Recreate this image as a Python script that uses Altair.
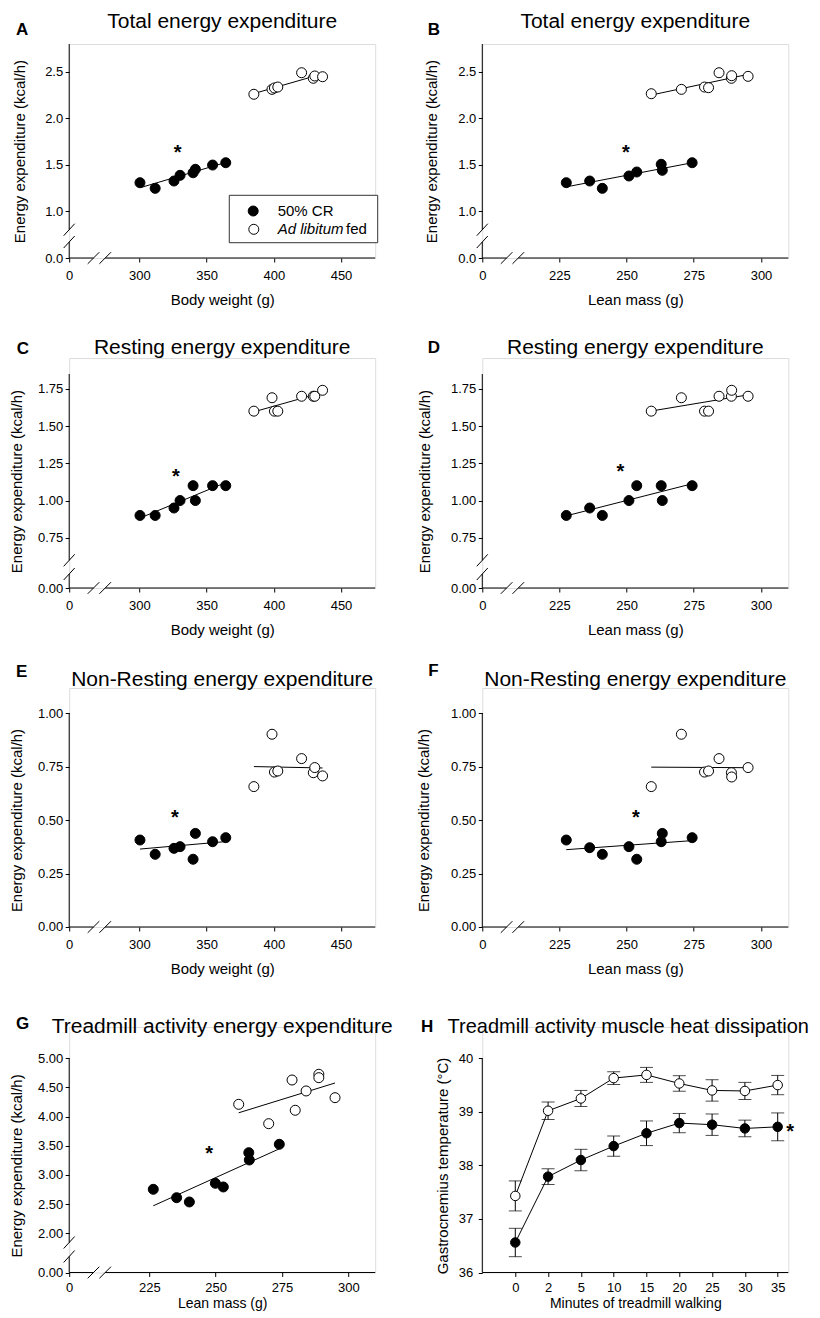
import altair as alt
import pandas as pd

# ---------------- data ----------------
cr_body_weight = [300.5, 311.8, 325.8, 330.3, 340.0, 341.7, 354.5, 364.3]
al_body_weight = [385.2, 398.7, 400.5, 403.0, 420.7, 429.4, 430.5, 436.3]
cr_lean_mass = [227.6, 236.3, 241.0, 250.9, 253.8, 262.9, 263.3, 274.4]
al_lean_mass = [259.2, 270.4, 279.0, 280.5, 284.4, 289.0, 289.1, 295.2]

# A / B: total energy expenditure (kcal/h)
tee_cr_bw = [1.305, 1.244, 1.323, 1.384, 1.412, 1.449, 1.495, 1.520]
tee_al_bw = [2.257, 2.310, 2.325, 2.335, 2.489, 2.429, 2.454, 2.446]
tee_cr_lm = [1.305, 1.323, 1.244, 1.377, 1.420, 1.503, 1.438, 1.520]
tee_al_lm = [2.263, 2.310, 2.335, 2.328, 2.489, 2.429, 2.457, 2.450]
# C / D: resting energy expenditure
ree_cr_bw = [0.90, 0.90, 0.95, 1.00, 1.10, 1.00, 1.10, 1.10]
ree_al_bw = [1.60, 1.69, 1.60, 1.60, 1.70, 1.70, 1.70, 1.74]
ree_cr_lm = [0.90, 0.95, 0.90, 1.00, 1.10, 1.10, 1.00, 1.10]
ree_al_lm = [1.60, 1.69, 1.60, 1.60, 1.70, 1.70, 1.74, 1.70]
# E / F: non-resting energy expenditure
nree_cr_bw = [0.407, 0.340, 0.368, 0.376, 0.317, 0.438, 0.399, 0.418]
nree_al_bw = [0.657, 0.902, 0.725, 0.730, 0.788, 0.722, 0.746, 0.707]
nree_cr_lm = [0.407, 0.371, 0.340, 0.376, 0.317, 0.399, 0.438, 0.418]
nree_al_lm = [0.657, 0.902, 0.725, 0.730, 0.788, 0.722, 0.702, 0.746]
# G: treadmill activity energy expenditure
g_cr_lean_mass = [226.5, 235.3, 240.1, 249.9, 252.9, 262.5, 262.7, 274.0]
g_al_lean_mass = [258.7, 270.0, 278.8, 280.0, 284.1, 288.9, 288.9, 295.0]
taee_cr = [2.754, 2.610, 2.537, 2.857, 2.794, 3.382, 3.257, 3.526]
taee_al = [4.211, 3.879, 4.628, 4.109, 4.440, 4.726, 4.668, 4.325]
# H: gastrocnemius temperature during treadmill walking
minutes = ["0", "2", "5", "10", "15", "20", "25", "30", "35"]
temp_cr = [36.56, 37.79, 38.10, 38.36, 38.60, 38.79, 38.76, 38.69, 38.72]
sem_cr = [0.265, 0.145, 0.20, 0.19, 0.23, 0.18, 0.20, 0.155, 0.26]
temp_al = [37.43, 39.02, 39.25, 39.63, 39.69, 39.53, 39.40, 39.39, 39.50]
sem_al = [0.28, 0.165, 0.15, 0.12, 0.14, 0.145, 0.20, 0.16, 0.18]

group_names = ["50% CR", "Ad libitum fed"]

# significance markers (data coordinates)
star_x = {"A": 328.6, "B": 249.8, "C": 327.3, "D": 247.7, "E": 326.5,
          "F": 253.5, "G": 247.6, "H": 8.38}
star_y = {"A": 1.68, "B": 1.68, "C": 1.193, "D": 1.226, "E": 0.535,
          "F": 0.535, "G": 3.44, "H": 38.72}

# ---------------- layout / style ----------------
FONT = "Liberation Sans"
W, PH = 306, 214
COL_GAP = 107.1
ROW_GAP = 100
ROW_PAD = [0, 16, 25, 31.5]
XBRK = (24.3, 36.0)
XTITLE_Y = [46.5, 46.5, 46.5, 35.5]
XTITLE_SIZE = [15, 15, 15, 14]
XLABEL_PAD = [17.3, 17.3, 17.3, 15.5]


def lin(v0, p0, v1, p1):
    k = (v1 - v0) / (p1 - p0)
    return lambda p: v0 + (p - p0) * k


def one():
    return alt.Data(values=[{}])


def seg(x1, y1, x2, y2, w=1.0):
    return alt.Chart(one()).mark_rule(color="black", strokeWidth=w).encode(
        x=alt.value(x1), y=alt.value(y1), x2=alt.value(x2), y2=alt.value(y2))


def anchor(x, y):
    # invisible 1px box that fixes the outer bounds of the figure
    return alt.Chart(one()).mark_rect(opacity=0, strokeWidth=0).encode(
        x=alt.value(x), x2=alt.value(x + 1), y=alt.value(y), y2=alt.value(y + 1))


def txt(s, x, y, size, align="left", weight="normal", style="normal"):
    return alt.Chart(one()).mark_text(
        text=s, fontSize=size, font=FONT, color="black", align=align,
        baseline="alphabetic", fontWeight=weight, fontStyle=style
    ).encode(x=alt.value(x), y=alt.value(y))


def make_x_axis(values, fmt, title, row, label_expr=None):
    kw = dict(values=values, domain=False, grid=False, ticks=True, tickSize=4,
              tickWidth=1, tickColor="black", labelFontSize=13, labelFont=FONT,
              labelColor="black", labelPadding=XLABEL_PAD[row], labelBaseline="alphabetic",
              labelFlush=False, labelOverlap=False, title=title, titleFont=FONT,
              titleFontSize=XTITLE_SIZE[row], titleFontWeight="normal", titleColor="black",
              titleBaseline="alphabetic", titleY=XTITLE_Y[row], titleAlign="center")
    if label_expr:
        kw["labelExpr"] = label_expr
    else:
        kw["format"] = fmt
    return alt.Axis(**kw)


def make_y_axis(values, fmt, title, title_x, pad, label_pad=2.5):
    return alt.Axis(values=values, format=fmt, domain=False, grid=False, ticks=True,
                    tickSize=4, tickWidth=1, tickColor="black", labelFontSize=13,
                    labelFont=FONT, labelColor="black", labelPadding=label_pad,
                    labelFlush=False, labelOverlap=False, labelBound=False,
                    title=title, titleFont=FONT,
                    titleFontSize=15, titleFontWeight="normal", titleColor="black",
                    titleAngle=270, titleAlign="center", titleBaseline="alphabetic",
                    titleX=title_x, titleY=pad + PH / 2)


def frame_layers(pad, xbrk, ybrk):
    bottom = pad + PH
    out = []
    if xbrk:
        b1, b2 = xbrk
        out += [seg(0, bottom, b1, bottom), seg(b2, bottom, W, bottom)]
        for c in xbrk:
            out.append(seg(c - 5.8, bottom + 5.8, c + 5.8, bottom - 5.8))
    else:
        out.append(seg(0, bottom, W, bottom))
    if ybrk:
        lo, hi = ybrk
        out += [seg(0, bottom, 0, bottom - lo), seg(0, bottom - hi, 0, pad)]
        for c in ybrk:
            out.append(seg(-5.5, bottom - c + 6, 5.5, bottom - c - 6))
    else:
        out.append(seg(0, bottom, 0, pad))
    return out


def head_layers(letter, title, letter_pos, title_dy, title_x=W / 2, title_size=21):
    return [txt(title, title_x, title_dy, title_size, align="center"),
            txt(letter, letter_pos[0], letter_pos[1], 17, weight="bold")]


def scatter_panel(key, row, xc, yc, xa, ya, title, xtitle, xanch, xticks, yanch,
                  ybrk, yticks, yfmt, ytitle_x, letter_pos, title_dy, extra=None):
    pad = ROW_PAD[row]
    bottom = pad + PH
    fx = lin(*xanch)
    xs = alt.Scale(domain=[0, fx(XBRK[1]), fx(W)], range=[0, XBRK[1], W],
                   nice=False, zero=False)
    fy = lin(*yanch)
    if ybrk:
        ys = alt.Scale(domain=[0, fy(ybrk[1]), fy(PH)],
                       range=[bottom, bottom - ybrk[1], pad], nice=False, zero=False)
    else:
        ys = alt.Scale(domain=[0, fy(PH)], range=[bottom, pad], nice=False, zero=False)
    xa_ = make_x_axis(xticks, "d", xtitle, row)
    ya_ = make_y_axis(yticks, yfmt, "Energy expenditure (kcal/h)", ytitle_x, pad)
    df = pd.DataFrame({"x": list(xc) + list(xa), "y": list(yc) + list(ya),
                       "group": [group_names[0]] * len(xc) + [group_names[1]] * len(xa)})
    X = alt.X("x:Q", scale=xs, axis=xa_)
    Y = alt.Y("y:Q", scale=ys, axis=ya_)
    fill = alt.Fill("group:N", scale=alt.Scale(domain=group_names, range=["black", "white"]),
                    legend=None)
    fit = alt.Chart(df).transform_regression("x", "y", groupby=["group"]).mark_line(
        color="black", strokeWidth=1).encode(x=X, y=Y, detail="group:N")
    pts = alt.Chart(df).mark_circle(size=100, stroke="black", strokeWidth=1, opacity=1).encode(
        x=X, y=Y, fill=fill)
    sdf = pd.DataFrame({"x": [star_x[key]], "y": [star_y[key]]})
    star = alt.Chart(sdf).mark_text(text="*", fontSize=20, fontWeight="bold", font=FONT,
                                    color="black", baseline="alphabetic", dy=11).encode(x=X, y=Y)
    layers = frame_layers(pad, XBRK, ybrk) + [fit, pts, star]
    if extra == "legend":
        layers += [
            anchor(-60, -35),
            alt.Chart(one()).mark_rect(fill="white", stroke="#333", strokeWidth=1).encode(
                x=alt.value(160.1), x2=alt.value(308.5), y=alt.value(151.3), y2=alt.value(198.7)),
            alt.Chart(pd.DataFrame({"group": [group_names[0]]})).mark_circle(
                size=100, stroke="black", strokeWidth=1, opacity=1).encode(
                x=alt.value(184.0), y=alt.value(167.0), fill=fill),
            alt.Chart(pd.DataFrame({"group": [group_names[1]]})).mark_circle(
                size=100, stroke="black", strokeWidth=1, opacity=1).encode(
                x=alt.value(184.6), y=alt.value(185.3), fill=fill),
            txt("50% CR", 208.5, 172.0, 15),
            txt("Ad libitum", 208.5, 190.3, 15, style="italic"),
            txt("fed", 276.8, 190.3, 15),
        ]
    layers += head_layers(key, title, letter_pos, title_dy)
    return alt.layer(*layers).properties(width=W, height=pad + PH)


TITLE_DY = [-16.5, -3.8, -1.5, 6.2]

pA = scatter_panel("A", 0, cr_body_weight, tee_cr_bw, al_body_weight, tee_al_bw,
                   "Total energy expenditure", "Body weight (g)", (300, 70.1, 450, 271.8),
                   [0, 300, 350, 400, 450], (1.0, 47.0, 2.5, 186.3), (16, 28.3),
                   [0, 1.0, 1.5, 2.0, 2.5], ".1f", -44.2, (-53.2, -8.7), TITLE_DY[0], extra="legend")
pB = scatter_panel("B", 0, cr_lean_mass, tee_cr_lm, al_lean_mass, tee_al_lm,
                   "Total energy expenditure", "Lean mass (g)", (225, 77.0, 300, 278.7),
                   [0, 225, 250, 275, 300], (1.0, 47.0, 2.5, 186.3), (16, 28.3),
                   [0, 1.0, 1.5, 2.0, 2.5], ".1f", -45.6, (-54.6, -9.0), TITLE_DY[0])
pC = scatter_panel("C", 1, cr_body_weight, ree_cr_bw, al_body_weight, ree_al_bw,
                   "Resting energy expenditure", "Body weight (g)", (300, 70.1, 450, 271.8),
                   [0, 300, 350, 400, 450], (0.75, 50.2, 1.75, 199.2), (14, 27.7),
                   [0, 0.75, 1.0, 1.25, 1.5, 1.75], ".2f", -47.8, (-52.5, -3.7), TITLE_DY[1])
pD = scatter_panel("D", 1, cr_lean_mass, ree_cr_lm, al_lean_mass, ree_al_lm,
                   "Resting energy expenditure", "Lean mass (g)", (225, 77.0, 300, 278.7),
                   [0, 225, 250, 275, 300], (0.75, 50.2, 1.75, 199.2), (14, 27.7),
                   [0, 0.75, 1.0, 1.25, 1.5, 1.75], ".2f", -52.3, (-54.6, -4.7), TITLE_DY[1])
pE = scatter_panel("E", 2, cr_body_weight, nree_cr_bw, al_body_weight, nree_al_bw,
                   "Non-Resting energy expenditure", "Body weight (g)", (300, 70.1, 450, 271.8),
                   [0, 300, 350, 400, 450], (0.0, 0.0, 1.0, 213.7), None,
                   [0, 0.25, 0.5, 0.75, 1.0], ".2f", -47.8, (-53.2, -11.3), TITLE_DY[2])
pF = scatter_panel("F", 2, cr_lean_mass, nree_cr_lm, al_lean_mass, nree_al_lm,
                   "Non-Resting energy expenditure", "Lean mass (g)", (225, 77.0, 300, 278.7),
                   [0, 225, 250, 275, 300], (0.0, 0.0, 1.0, 213.7), None,
                   [0, 0.25, 0.5, 0.75, 1.0], ".2f", -53.3, (-54.0, -12.0), TITLE_DY[2])
pG = scatter_panel("G", 3, g_cr_lean_mass, taee_cr, g_al_lean_mass, taee_al,
                   "Treadmill activity energy expenditure", "Lean mass (g)", (225, 80.1, 300, 279.1),
                   [0, 225, 250, 275, 300], (2.0, 39.2, 5.0, 214.2), (16, 30),
                   [0, 2.0, 2.5, 3.0, 3.5, 4.0, 4.5, 5.0], ".2f", -47.8, (-53.2, 2.3), TITLE_DY[3])

# ---- panel H ----
padH = ROW_PAD[3]
botH = padH + PH
idx = list(range(len(minutes)))
fxH = lin(0, 33.0, 1, 65.8)
xsH = alt.Scale(domain=[fxH(0), fxH(W)], range=[0, W], nice=False, zero=False)
ysH = alt.Scale(domain=[36, 40.0], range=[botH, botH - 214.2], nice=False, zero=False)
label_expr = "[" + ",".join("'%s'" % m for m in minutes) + "][datum.value]"
xaH = make_x_axis(idx, "d", "Minutes of treadmill walking", 3, label_expr=label_expr)
yaH = make_y_axis([36, 37, 38, 39, 40], "d", "Gastrocnemius temperature (°C)", -34.6, padH,
                  label_pad=5.6)
grp = [group_names[0]] * len(idx) + [group_names[1]] * len(idx)
means = temp_cr + temp_al
sems = sem_cr + sem_al
lows = [m - s for m, s in zip(means, sems)]
highs = [m + s for m, s in zip(means, sems)]
df_mean = pd.DataFrame({"x": idx + idx, "y": means, "group": grp})
df_bar = pd.DataFrame({"x": idx + idx, "y": lows, "y2": highs})
df_lo = pd.DataFrame({"x": idx + idx, "y": lows})
df_hi = pd.DataFrame({"x": idx + idx, "y": highs})
XH = alt.X("x:Q", scale=xsH, axis=xaH)
YH = alt.Y("y:Q", scale=ysH, axis=yaH)
fillH = alt.Fill("group:N", scale=alt.Scale(domain=group_names, range=["black", "white"]), legend=None)
barsH = alt.Chart(df_bar).mark_rule(color="black", strokeWidth=1).encode(x=XH, y=YH, y2="y2:Q")
capLo = alt.Chart(df_lo).mark_tick(orient="horizontal", size=13, thickness=1, color="black").encode(
    x=XH, y=YH)
capHi = alt.Chart(df_hi).mark_tick(orient="horizontal", size=13, thickness=1, color="black").encode(
    x=XH, y=YH)
lineH = alt.Chart(df_mean).mark_line(color="black", strokeWidth=1).encode(x=XH, y=YH, detail="group:N")
ptsH = alt.Chart(df_mean).mark_circle(size=90, stroke="black", strokeWidth=1, opacity=1).encode(
    x=XH, y=YH, fill=fillH)
starH = alt.Chart(pd.DataFrame({"x": [star_x["H"]], "y": [star_y["H"]]})).mark_text(
    text="*", fontSize=20, fontWeight="bold", font=FONT, color="black",
    baseline="alphabetic", dy=11).encode(x=XH, y=YH)
pH = alt.layer(*(frame_layers(padH, None, None) + [barsH, capLo, capHi, lineH, ptsH, starH]
                 + head_layers("H", "Treadmill activity muscle heat dissipation", (-61.3, 4.7),
                               TITLE_DY[3], title_x=146, title_size=20)
                 + [anchor(326.9, 280)])
               ).properties(width=W, height=padH + PH)

chart = alt.concat(pA, pB, pC, pD, pE, pF, pG, pH, columns=2,
                   spacing={"row": ROW_GAP, "column": COL_GAP},
                   bounds="flush", align="each").properties(
    padding={"left": 0.2, "top": 0, "right": 0, "bottom": 0}
).configure_view(strokeWidth=0).configure_axis(labelOverlap=False).configure(font=FONT)

chart.save("out.html", embed_options={"renderer": "svg", "actions": False})
